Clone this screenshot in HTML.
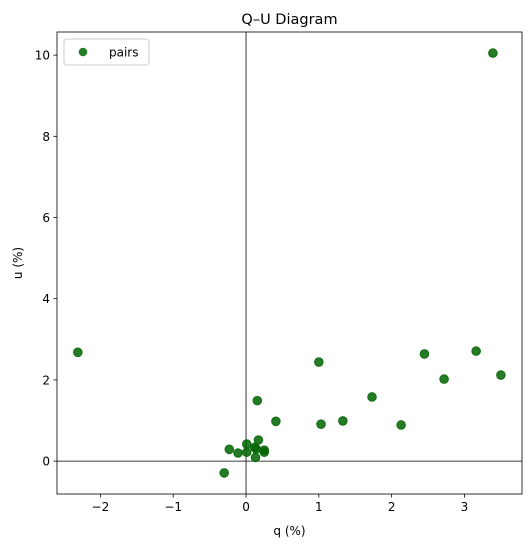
<!DOCTYPE html>
<html><head><meta charset="utf-8"><style>
body{margin:0;background:#fff;font-family:"Liberation Sans","DejaVu Sans",sans-serif}
svg text{font-family:"DejaVu Sans","Liberation Sans",sans-serif}
</style></head><body>
<svg id="chart" width="531" height="547" xmlns="http://www.w3.org/2000/svg"></svg>
<script>
const qValues=[0.155,0.41,0.17,0.01,-0.23,-0.11,0.01,0.12,0.14,0.25,0.25,0.13,-0.30,-2.31,3.39,1.00,1.03,1.33,1.73,2.13,2.45,2.72,3.16,3.50];
const uValues=[1.49,0.98,0.52,0.42,0.29,0.20,0.22,0.34,0.30,0.27,0.22,0.09,-0.29,2.68,10.05,2.44,0.91,0.99,1.58,0.89,2.64,2.02,2.71,2.12];
const xTicks=[-2,-1,0,1,2,3];
const yTicks=[0,2,4,6,8,10];
const xTickLabels=["\u22122","\u22121","0","1","2","3"];
const yTickLabels=["0","2","4","6","8","10"];
const L=57,R=522,T=32,B=494;
const xMin=-2.596,xMax=3.79,yMin=-0.81,yMax=10.57;
const sx=v=>L+(v-xMin)/(xMax-xMin)*(R-L);
const sy=v=>B-(v-yMin)/(yMax-yMin)*(B-T);
const svg=document.getElementById('chart');
const NS="http://www.w3.org/2000/svg";
function mk(tag,attrs,parent){const e=document.createElementNS(NS,tag);for(const k in attrs)e.setAttribute(k,attrs[k]);(parent||svg).appendChild(e);return e;}
let t=mk('text',{x:(L+R)/2,y:24,'text-anchor':'middle','font-size':14.5,fill:'#000'});
t.textContent='Q\u2013U Diagram';


let l=mk('line',{x1:sx(0),x2:sx(0),y1:T,y2:B,stroke:'#000','stroke-width':0.8});


l=mk('line',{x1:L,x2:R,y1:sy(0),y2:sy(0),stroke:'#000','stroke-width':0.8});


qValues.forEach((q,i)=>{
 const c=mk('circle',{cx:sx(q),cy:sy(uValues[i]),r:4.3,fill:'#006400','fill-opacity':0.85,stroke:'#006400','stroke-opacity':0.85,'stroke-width':1});
 
 
});
const frame=mk('rect',{x:L,y:T,width:R-L,height:B-T,fill:'none',stroke:'#000','stroke-width':0.8});


xTicks.forEach((v,i)=>{
 const x=sx(v);
 const tk=mk('line',{x1:x,x2:x,y1:B,y2:B+3.5,stroke:'#000','stroke-width':0.8});
 
 
 const tx=mk('text',{x:x,y:B+17,'text-anchor':'middle','font-size':12,fill:'#000'});
 tx.textContent=xTickLabels[i];
 
 
});
yTicks.forEach((v,i)=>{
 const y=sy(v);
 const tk=mk('line',{x1:L-3.5,x2:L,y1:y,y2:y,stroke:'#000','stroke-width':0.8});
 
 
 const tx=mk('text',{x:L-7,y:y+4.5,'text-anchor':'end','font-size':12,fill:'#000'});
 tx.textContent=yTickLabels[i];
 
 
});
t=mk('text',{x:(L+R)/2,y:535,'text-anchor':'middle','font-size':12,fill:'#000'});
t.textContent='q (%)';


t=mk('text',{x:22,y:(T+B)/2,'text-anchor':'middle','font-size':12,fill:'#000',transform:`rotate(-90 22 ${(T+B)/2})`});
t.textContent='u (%)';


const lg=mk('g',{});


mk('rect',{x:64,y:39,width:85,height:26,rx:3,fill:'#fff',stroke:'#ccc','stroke-width':1},lg);
const lc=mk('circle',{cx:83,cy:52,r:4.3,fill:'#006400','fill-opacity':0.85},lg);


t=mk('text',{x:109,y:56.5,'font-size':12,fill:'#000'},lg);
t.textContent='pairs';


</script>
</body></html>
